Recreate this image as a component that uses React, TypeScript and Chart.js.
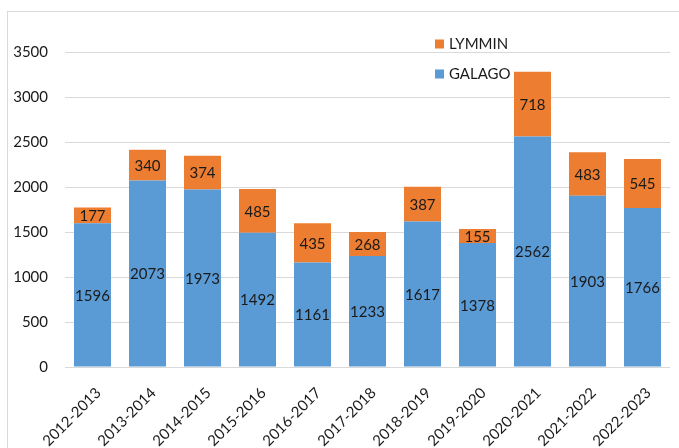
import React, { useEffect, useRef } from "react";
import { Chart, registerables } from "chart.js";

Chart.register(...registerables);

const categories = [
  "2012-2013", "2013-2014", "2014-2015", "2015-2016", "2016-2017", "2017-2018",
  "2018-2019", "2019-2020", "2020-2021", "2021-2022", "2022-2023",
];
const galago = [1596, 2073, 1973, 1492, 1161, 1233, 1617, 1378, 2562, 1903, 1766];
const lymmin = [177, 340, 374, 485, 435, 268, 387, 155, 718, 483, 545];
const yTicks = [0, 500, 1000, 1500, 2000, 2500, 3000, 3500];

const FONT = "Lato, 'Open Sans', sans-serif";
const BLUE = "#5B9BD5";
const ORANGE = "#ED7D31";
const GRID = "#D9D9D9";

const borderPlugin = {
  id: "outerBorder",
  beforeDraw(chart: any) {
    const ctx = chart.ctx;
    ctx.save();
    ctx.strokeStyle = GRID;
    ctx.lineWidth = 1;
    ctx.strokeRect(7.5, 11.5, chart.width + 20, chart.height + 20);
    ctx.restore();
  },
};

const labelPlugin = {
  id: "barLabels",
  afterDatasetsDraw(chart: any) {
    const ctx = chart.ctx;
    ctx.save();
    ctx.font = `15px ${FONT}`;
    ctx.fillStyle = "#1a1a1a";
    ctx.textAlign = "center";
    ctx.textBaseline = "middle";
    chart.data.datasets.forEach((ds: any, di: number) => {
      const meta = chart.getDatasetMeta(di);
      meta.data.forEach((el: any, i: number) => {
        const { x, y, base } = el.getProps(["x", "y", "base"], true);
        ctx.fillText(String(ds.data[i]), x, (y + base) / 2 + 1);
      });
    });
    ctx.restore();
  },
};

const legendPlugin = {
  id: "customLegend",
  afterDraw(chart: any) {
    const ctx = chart.ctx;
    ctx.save();
    ctx.font = `15px ${FONT}`;
    ctx.textBaseline = "middle";
    ctx.textAlign = "left";
    const items = [...chart.data.datasets].reverse();
    const x0 = chart.chartArea.left + 370;
    const y0 = 44;
    items.forEach((ds: any, k: number) => {
      const cy = y0 + k * 30;
      ctx.fillStyle = ds.backgroundColor;
      ctx.fillRect(x0, cy - 4.5, 9, 9);
      ctx.fillStyle = "#1a1a1a";
      ctx.fillText(ds.label, x0 + 14, cy + 0.5);
    });
    ctx.restore();
  },
};

export default function App() {
  const ref = useRef<HTMLCanvasElement>(null);
  useEffect(() => {
    document.body.style.margin = "0";
    const chart = new Chart(ref.current!, {
      type: "bar",
      data: {
        labels: categories,
        datasets: [
          { label: "GALAGO", data: galago, backgroundColor: BLUE, barPercentage: 0.673, categoryPercentage: 1 },
          { label: "LYMMIN", data: lymmin, backgroundColor: ORANGE, barPercentage: 0.673, categoryPercentage: 1 },
        ],
      },
      options: {
        animation: false,
        responsive: false,
        layout: { padding: { left: 0, right: 9, top: 52, bottom: 0 } },
        plugins: { legend: { display: false }, tooltip: { enabled: false } },
        scales: {
          x: {
            stacked: true,
            grid: { display: false },
            border: { display: false },
            ticks: {
              font: { family: FONT, size: 15 },
              color: "#1a1a1a",
              minRotation: 45,
              maxRotation: 45,
              padding: 9,
              labelOffset: 6,
            },
            afterFit(scale: any) {
              scale.height = 81;
            },
          },
          y: {
            stacked: true,
            min: 0,
            max: 3500,
            afterBuildTicks(scale: any) {
              scale.ticks = yTicks.map((v) => ({ value: v }));
            },
            grid: { color: GRID, drawTicks: false, lineWidth: 1 },
            border: { display: false },
            ticks: {
              font: { family: FONT, size: 15 },
              color: "#1a1a1a",
              padding: 17,
              callback: (v: any) => String(v),
            },
            afterFit(scale: any) {
              scale.width = 65;
            },
          },
        },
      },
      plugins: [borderPlugin, labelPlugin, legendPlugin],
    });
    return () => chart.destroy();
  }, []);
  return <canvas ref={ref} width={679} height={448} style={{ display: "block" }} />;
}
